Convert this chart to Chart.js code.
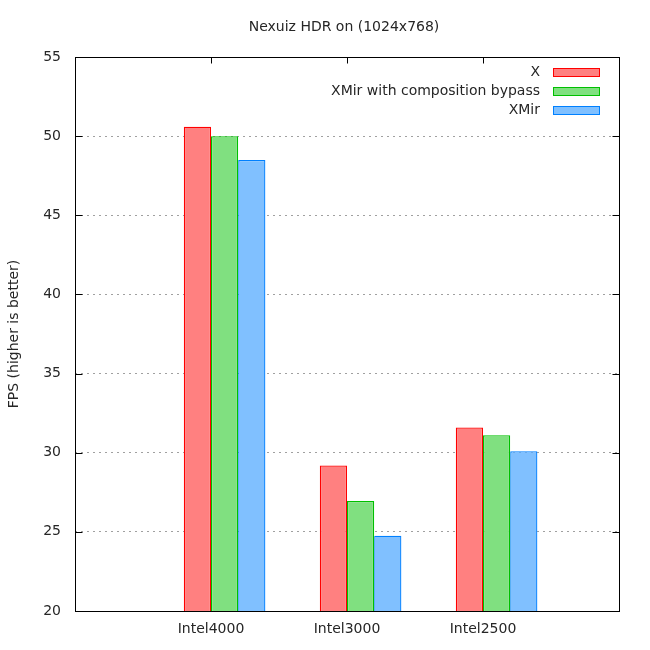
<!DOCTYPE html>
<html>
<head>
<meta charset="utf-8">
<script src="https://cdn.jsdelivr.net/npm/chart.js@4/dist/chart.umd.min.js"></script>
<style>
  html, body { margin: 0; padding: 0; background: #fff; }
  #wrap { width: 650px; height: 650px; }
</style>
</head>
<body>
<div id="wrap"><canvas id="fpsChart" width="650" height="650"></canvas></div>
<script>
// chart values
const chartTitle = 'Nexuiz HDR on (1024x768)';
const yTitle = 'FPS (higher is better)';
const categories = ['Intel4000', 'Intel3000', 'Intel2500'];
const seriesNames = ['X', 'XMir with composition bypass', 'XMir'];
const xValues = [50.6, 29.2, 31.6];
const xMirBypassValues = [50.0, 26.95, 31.1];
const xMirValues = [48.5, 24.75, 30.1];
const yMin = 20;
const yMax = 55;
const yStep = 5;

const fillColors = ['rgb(255,128,128)', 'rgb(128,224,128)', 'rgb(128,192,255)'];
const lineColors = ['rgb(255,0,0)', 'rgb(0,192,0)', 'rgb(0,128,255)'];
const textColor = '#262626';
const fontFamily = '"DejaVu Sans", sans-serif';

// empty slot on each side, like the gnuplot x range
const paddedLabels = [''].concat(categories, ['']);
function pad(values) {
    return [null].concat(values, [null]);
}

const allSeries = [xValues, xMirBypassValues, xMirValues];
const datasets = allSeries.map((values, i) => ({
    label: seriesNames[i],
    data: pad(values),
    backgroundColor: fillColors[i],
    borderColor: lineColors[i],
    borderWidth: 1.3,
    borderSkipped: false,
    inflateAmount: 0,
    categoryPercentage: 0.8,
    barPercentage: 1.0,
}));

// empty first slot so the tick sits on the red/green edge, as gnuplot does
datasets.unshift({
    label: '',
    data: pad(categories.map(() => null)),
    categoryPercentage: 0.8,
    barPercentage: 1.0,
});

// frame, mirrored ticks, title and gnuplot style legend
const gnuplotLook = {
    id: 'gnuplotLook',
    beforeDatasetsDraw(chart) {
        const ctx = chart.ctx;
        const area = chart.chartArea;
        const xs = chart.scales.x;
        ctx.save();
        ctx.strokeStyle = '#000';
        ctx.lineWidth = 1;
        ctx.beginPath();
        paddedLabels.forEach((lab, i) => {
            if (!lab) return;
            const px = Math.round(xs.getPixelForValue(i)) + 0.5;
            ctx.moveTo(px, area.bottom);
            ctx.lineTo(px, area.bottom - 6);
        });
        ctx.stroke();
        ctx.restore();
    },
    afterDraw(chart) {
        const ctx = chart.ctx;
        const area = chart.chartArea;
        const xs = chart.scales.x;
        const ys = chart.scales.y;
        const left = Math.round(area.left) + 0.5;
        const right = Math.round(area.right) + 0.5;
        const top = Math.round(area.top) + 0.5;
        const bottom = Math.round(area.bottom) + 0.5;

        ctx.save();
        ctx.strokeStyle = '#000';
        ctx.lineWidth = 1;
        ctx.strokeRect(left, top, right - left, bottom - top);

        // y ticks on both sides
        ctx.beginPath();
        for (let v = yMin; v <= yMax; v += yStep) {
            const py = Math.round(ys.getPixelForValue(v)) + 0.5;
            ctx.moveTo(left, py);
            ctx.lineTo(left + 7, py);
            ctx.moveTo(right, py);
            ctx.lineTo(right - 7, py);
        }
        // x ticks on top
        paddedLabels.forEach((lab, i) => {
            if (!lab) return;
            const px = Math.round(xs.getPixelForValue(i)) + 0.5;
            ctx.moveTo(px, top);
            ctx.lineTo(px, top + 6);
        });
        ctx.stroke();

        // title
        ctx.fillStyle = textColor;
        ctx.font = '14px ' + fontFamily;
        ctx.textAlign = 'center';
        ctx.textBaseline = 'middle';
        ctx.fillText(chartTitle, (area.left + area.right) / 2 - 3, 27);

        // legend
        ctx.textAlign = 'right';
        seriesNames.forEach((name, i) => {
            const rowY = area.top + 15 + i * 19;
            ctx.fillStyle = textColor;
            ctx.fillText(name, area.right - 79, rowY);
            const bx = Math.round(area.right - 66) + 0.5;
            const by = Math.round(rowY - 4) + 0.5;
            ctx.fillStyle = fillColors[i];
            ctx.fillRect(bx, by, 46, 8);
            ctx.strokeStyle = lineColors[i];
            ctx.strokeRect(bx, by, 46, 8);
        });
        ctx.restore();
    }
};

const config = {
    type: 'bar',
    data: { labels: paddedLabels, datasets: datasets },
    options: {
        responsive: false,
        animation: false,
        layout: { padding: { top: 57, right: 31, left: 0, bottom: 0 } },
        scales: {
            x: {
                offset: false,
                grid: { display: false, drawTicks: false },
                border: { display: false },
                ticks: {
                    color: textColor,
                    padding: 10,
                    autoSkip: false,
                    maxRotation: 0,
                    font: { family: fontFamily, size: 14 }
                },
                afterFit(scale) { scale.height = 39; }
            },
            y: {
                min: yMin,
                max: yMax,
                grid: { color: '#a0a0a0', lineWidth: 1, drawTicks: false },
                border: { display: false, dash: [2, 4] },
                ticks: {
                    stepSize: yStep,
                    color: textColor,
                    padding: 14,
                    font: { family: fontFamily, size: 14 }
                },
                title: {
                    display: true,
                    text: yTitle,
                    color: textColor,
                    padding: { top: 6, bottom: 0 },
                    font: { family: fontFamily, size: 14 }
                },
                afterFit(scale) { scale.width = 75; }
            }
        },
        plugins: {
            legend: { display: false },
            title: { display: false },
            tooltip: { enabled: false }
        }
    },
    plugins: [gnuplotLook]
};

const fpsChart = new Chart(document.getElementById('fpsChart'), config);
</script>
</body>
</html>
